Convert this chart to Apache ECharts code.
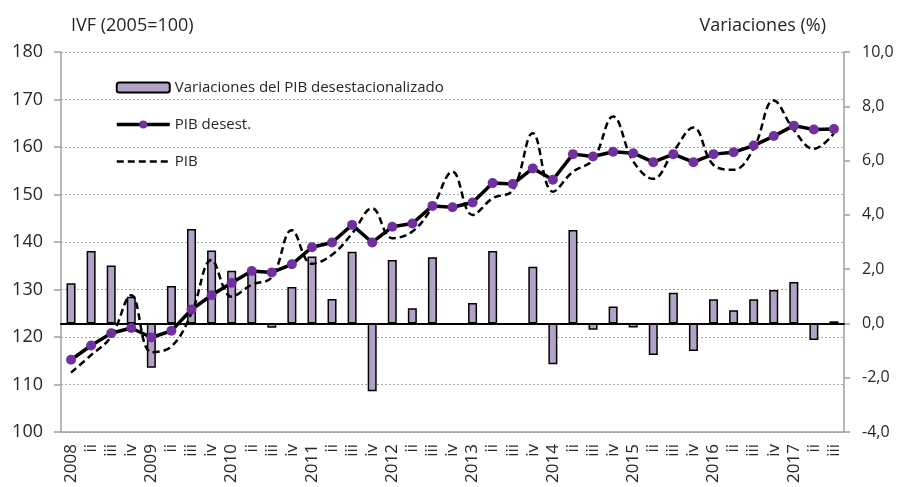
<!DOCTYPE html>
<html>
<head>
<meta charset="utf-8">
<script src="https://cdn.jsdelivr.net/npm/echarts@6/dist/echarts.min.js"></script>
<style>
html,body{margin:0;padding:0;background:#fff;}
#chart{width:901px;height:487px;}
</style>
</head>
<body>
<div id="chart"></div>
<script>
// trimestres 2008 i .. 2017 iii
var trimestres = ['2008','ii','iii','iv','2009','ii','iii','iv','2010','ii','iii','iv',
    '2011','ii','iii','iv','2012','ii','iii','iv','2013','ii','iii','iv',
    '2014','ii','iii','iv','2015','ii','iii','iv','2016','ii','iii','iv',
    '2017','ii','iii'];
// variaciones del PIB desestacionalizado (%), eje derecho
var variaciones = [1.48,2.67,2.13,0.98,-1.63,1.38,3.48,2.69,1.94,1.90,-0.16,1.34,
    2.47,0.90,2.64,-2.50,2.34,0.56,2.44,-0.03,0.75,2.67,-0.03,2.09,
    -1.50,3.44,-0.23,0.62,-0.15,-1.16,1.13,-1.02,0.89,0.49,0.89,1.23,
    1.53,-0.61,0.08];
// PIB desestacionalizado (IVF)
var pibDesest = [115.2,118.2,120.8,121.9,119.9,121.3,125.8,128.8,131.4,133.9,133.6,135.3,
    138.9,139.9,143.6,139.9,143.2,143.9,147.6,147.3,148.3,152.4,152.2,155.5,
    153.1,158.5,158.0,159.0,158.7,156.8,158.5,156.8,158.5,158.9,160.3,162.3,
    164.5,163.7,163.8];
// PIB original (IVF)
var pib = [112.5,116.2,120.1,128.8,116.8,118.0,125.0,136.2,128.5,131.0,132.6,142.5,
    135.4,137.3,141.8,147.1,140.8,142.2,147.4,154.8,145.7,149.2,150.9,162.9,
    150.6,154.8,157.3,166.4,157.0,153.3,159.0,164.1,156.2,155.2,159.7,169.8,
    163.6,159.6,162.9];

function coma(v){ return v.toFixed(1).replace('.', ','); }

var myChart = echarts.init(document.getElementById('chart'));
var txt = '#262626';
var fuente = 'Open Sans';
var option = {
    animation: false,
    title: [{
        text: 'IVF (2005=100)', left: 66, top: 12,
        textStyle: {fontFamily: fuente, fontSize: 18, fontWeight: 'normal', color: txt}
    }, {
        text: 'Variaciones (%)', right: 70, top: 12,
        textStyle: {fontFamily: fuente, fontSize: 18, fontWeight: 'normal', color: txt}
    }],
    legend: {
        orient: 'vertical',
        left: 110,
        top: 75,
        itemWidth: 53,
        itemHeight: 10,
        itemGap: 22,
        textStyle: {fontFamily: fuente, fontSize: 15, color: txt},
        data: [
            {name: 'Variaciones del PIB desestacionalizado'},
            {name: 'PIB desest.', lineStyle: {width: 3.5}},
            {name: 'PIB', itemStyle: {opacity: 0}, lineStyle: {width: 2.5}}
        ]
    },
    grid: {left: 61, right: 57, top: 52, bottom: 55, outerBoundsMode: 'none'},
    xAxis: [{
        type: 'category',
        data: trimestres,
        position: 'bottom',
        axisLine: {onZero: false, lineStyle: {color: '#a0a0a0', width: 1.5}},
        axisTick: {interval: 1, length: 6, lineStyle: {color: '#a0a0a0', width: 1.5}},
        axisLabel: {interval: 0, rotate: 90, margin: 12, fontFamily: fuente, fontSize: 17, color: txt},
        splitLine: {show: false}
    }, {
        type: 'category',
        data: trimestres,
        position: 'bottom',
        z: 3,
        axisLine: {onZero: true, onZeroAxisIndex: 1, lineStyle: {color: '#000', width: 2}},
        axisTick: {show: false},
        axisLabel: {show: false},
        splitLine: {show: false}
    }],
    yAxis: [{
        type: 'value',
        min: 100, max: 180, interval: 10,
        axisLine: {show: true, lineStyle: {color: '#a0a0a0', width: 1.5}},
        axisTick: {show: true, length: 7, lineStyle: {color: '#a0a0a0', width: 1.5}},
        axisLabel: {margin: 18, fontFamily: fuente, fontSize: 18, color: txt},
        splitLine: {lineStyle: {color: '#a6a6a6', type: [2, 2], width: 1}}
    }, {
        type: 'value',
        min: -4, max: 10, interval: 2,
        position: 'right',
        axisLine: {show: true, lineStyle: {color: '#a0a0a0', width: 1.5}},
        axisTick: {show: true, length: 6, lineStyle: {color: '#a0a0a0', width: 1.5}},
        axisLabel: {margin: 18, align: 'left', fontFamily: fuente, fontSize: 16, color: txt, formatter: coma},
        splitLine: {show: false}
    }],
    series: [{
        name: 'Variaciones del PIB desestacionalizado',
        type: 'bar',
        xAxisIndex: 0,
        yAxisIndex: 1,
        barWidth: 9,
        z: 2,
        itemStyle: {color: '#b3a2c7', borderColor: '#000', borderWidth: 1.5},
        data: variaciones
    }, {
        name: 'PIB desest.',
        type: 'line',
        yAxisIndex: 0,
        z: 5,
        symbol: 'circle',
        symbolSize: 10,
        lineStyle: {color: '#000', width: 3.5},
        itemStyle: {color: '#7030a0'},
        data: pibDesest
    }, {
        name: 'PIB',
        type: 'line',
        yAxisIndex: 0,
        z: 4,
        smooth: 0.4,
        symbol: 'none',
        lineStyle: {color: '#000', width: 2.5, type: [7, 4]},
        itemStyle: {color: '#000'},
        data: pib
    }]
};
myChart.setOption(option);
</script>
</body>
</html>
